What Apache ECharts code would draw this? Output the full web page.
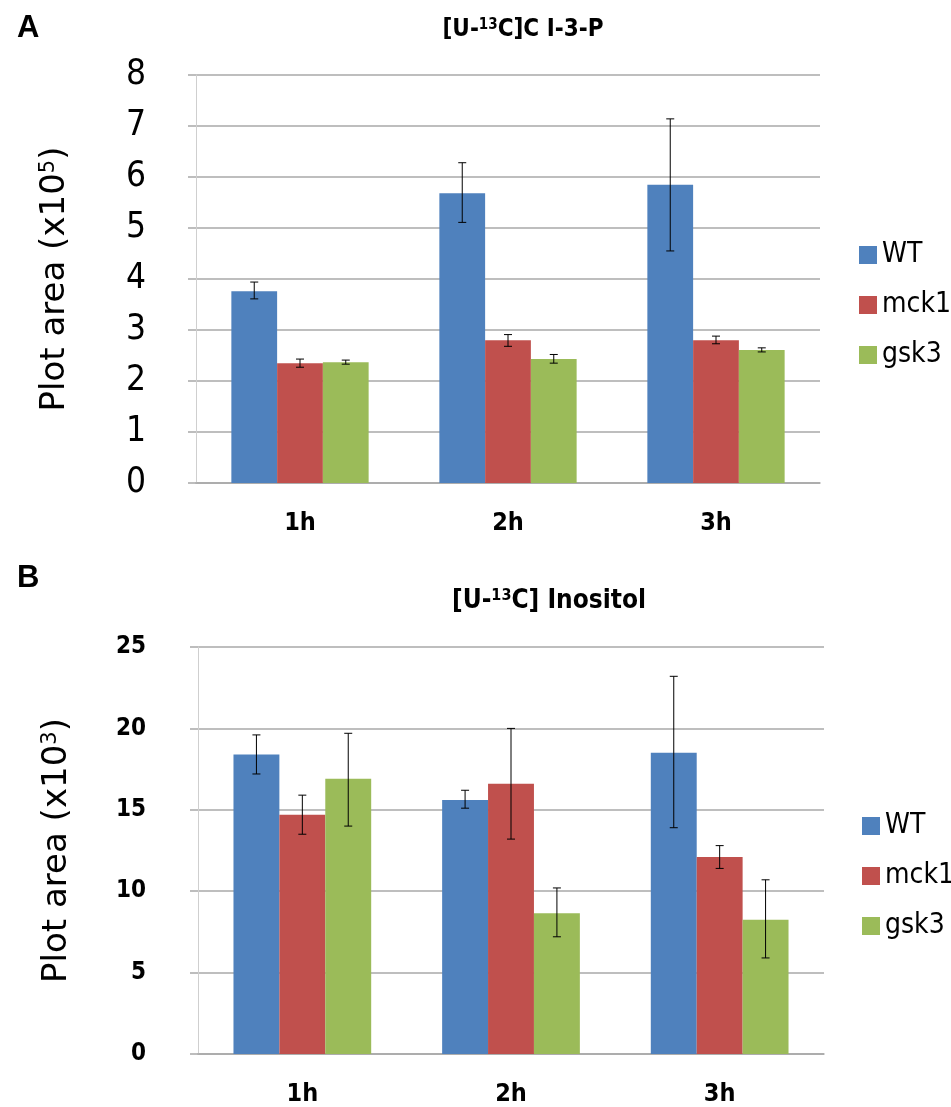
<!DOCTYPE html>
<html>
<head>
<meta charset="utf-8">
<script src="https://cdn.jsdelivr.net/npm/echarts@6/dist/echarts.min.js"></script>
<style>
  html, body { margin: 0; padding: 0; background: #fff; }
  #chart { width: 951px; height: 1107px; }
</style>
</head>
<body>
<div id="chart"></div>
<script>
// categories / series names
const hours = ['1h', '2h', '3h']
const names = ['WT', 'mck1', 'gsk3']
const colors = ['#4F81BD', '#C0504D', '#9BBB59']

// panel A: [U-13C]C I-3-P, x10^5
const aWT = [3.76, 5.68, 5.85]
const aWTLow = [3.61, 5.11, 4.55]
const aWTHigh = [3.94, 6.28, 7.14]
const aMck1 = [2.35, 2.80, 2.80]
const aMck1Low = [2.27, 2.68, 2.73]
const aMck1High = [2.43, 2.91, 2.88]
const aGsk3 = [2.37, 2.43, 2.61]
const aGsk3Low = [2.33, 2.35, 2.57]
const aGsk3High = [2.41, 2.52, 2.65]

// panel B: [U-13C] Inositol, x10^3
const bWT = [18.4, 15.6, 18.5]
const bWTLow = [17.2, 15.1, 13.9]
const bWTHigh = [19.6, 16.2, 23.2]
const bMck1 = [14.7, 16.6, 12.1]
const bMck1Low = [13.5, 13.2, 11.4]
const bMck1High = [15.9, 20.0, 12.8]
const bGsk3 = [16.9, 8.65, 8.25]
const bGsk3Low = [14.0, 7.2, 5.9]
const bGsk3High = [19.7, 10.2, 10.7]

const narrow = "'Liberation Sans Narrow', 'DejaVu Sans Condensed', sans-serif"
const gridGrey = '#a8a8a8'
const catGap = 0.34

const panels = [
  { means: [aWT, aMck1, aGsk3], lows: [aWTLow, aMck1Low, aGsk3Low], highs: [aWTHigh, aMck1High, aGsk3High] },
  { means: [bWT, bMck1, bGsk3], lows: [bWTLow, bMck1Low, bGsk3Low], highs: [bWTHigh, bMck1High, bGsk3High] }
]

// error bar drawn at the centre of bar number k
function errorBar (k) {
  return function (params, api) {
    const x = api.value(0)
    const lo = api.coord([x, api.value(1)])
    const hi = api.coord([x, api.value(2)])
    const band = api.size([1, 0])[0]
    const bw = band * (1 - catGap) / 3
    const cx = lo[0] + (k - 1) * bw
    const cap = 4
    const st = { stroke: '#000', lineWidth: 1 }
    return {
      type: 'group',
      children: [
        { type: 'line', shape: { x1: cx, y1: lo[1], x2: cx, y2: hi[1] }, style: st },
        { type: 'line', shape: { x1: cx - cap, y1: lo[1], x2: cx + cap, y2: lo[1] }, style: st },
        { type: 'line', shape: { x1: cx - cap, y1: hi[1], x2: cx + cap, y2: hi[1] }, style: st }
      ]
    }
  }
}

const series = []
panels.forEach((p, gi) => {
  names.forEach((n, k) => {
    series.push({
      name: n, type: 'bar', xAxisIndex: gi, yAxisIndex: gi,
      data: p.means[k], barGap: '0%', barCategoryGap: (catGap * 100) + '%',
      itemStyle: { color: colors[k] }, silent: true
    })
  })
  names.forEach((n, k) => {
    series.push({
      type: 'custom', xAxisIndex: gi, yAxisIndex: gi, silent: true, z: 5,
      renderItem: errorBar(k),
      data: hours.map((h, i) => [i, p.lows[k][i], p.highs[k][i]])
    })
  })
})

const xAxisBase = (gi) => ({
  type: 'category', gridIndex: gi, data: hours,
  axisLine: { lineStyle: { color: gridGrey, width: 1.5 } },
  axisTick: { length: 10, lineStyle: { color: gridGrey } },
  axisLabel: { fontFamily: narrow, fontWeight: 'bold', fontSize: 25, color: '#000', margin: 28 }
})

const yName = (exp) => ({
  name: '{a|Plot area (x10}{s|' + exp + '}{a|)}',
  nameLocation: 'middle', nameRotate: 90, nameGap: 124,
  nameTextStyle: {
    rich: {
      a: { fontFamily: 'DejaVu Sans', fontSize: 34, color: '#000' },
      s: { fontFamily: 'DejaVu Sans', fontSize: 21, color: '#000', verticalAlign: 'top' }
    }
  }
})

const legendBase = (left, top) => ({
  data: names, orient: 'vertical', left: left, top: top, itemWidth: 18, itemHeight: 18, itemGap: 22,
  icon: 'rect', selectedMode: false,
  textStyle: { fontFamily: narrow, fontSize: 28, color: '#000', padding: [0, 0, 0, 0] }
})

const option = {
  animation: false,
  title: [
    { text: 'A', left: 12, top: 8, textStyle: { fontFamily: 'Liberation Sans', fontWeight: 'bold', fontSize: 31, color: '#000' } },
    { text: 'B', left: 12, top: 558, textStyle: { fontFamily: 'Liberation Sans', fontWeight: 'bold', fontSize: 31, color: '#000' } },
    {
      text: '{b|[U-}{s|13}{b|C]C I-3-P}', left: 518, top: 13, textAlign: 'center',
      textStyle: { rich: {
        b: { fontFamily: narrow, fontWeight: 'bold', fontSize: 24, color: '#000' },
        s: { fontFamily: narrow, fontWeight: 'bold', fontSize: 15, color: '#000', verticalAlign: 'top' }
      } }
    },
    {
      text: '{b|[U-}{s|13}{b|C] Inositol}', left: 544, top: 583, textAlign: 'center',
      textStyle: { rich: {
        b: { fontFamily: narrow, fontWeight: 'bold', fontSize: 26, color: '#000' },
        s: { fontFamily: narrow, fontWeight: 'bold', fontSize: 16, color: '#000', verticalAlign: 'top' }
      } }
    }
  ],
  legend: [legendBase(854, 236), legendBase(857, 807)],
  grid: [
    { left: 196, right: 131, top: 75, height: 408 },
    { left: 198, right: 127, top: 647, height: 412 }
  ],
  xAxis: [xAxisBase(0), xAxisBase(1)],
  yAxis: [
    Object.assign({
      type: 'value', gridIndex: 0, min: 0, max: 8, interval: 1,
      axisLine: { show: true, lineStyle: { color: '#cfcfcf', width: 1 } },
      axisTick: { show: true, length: 8, lineStyle: { color: gridGrey, width: 1.5 } },
      splitLine: { lineStyle: { color: gridGrey, width: 1.5 } },
      axisLabel: { fontFamily: narrow, fontSize: 35, color: '#000', margin: 50 }
    }, yName(5)),
    Object.assign({
      type: 'value', gridIndex: 1, min: 0, max: 25, interval: 5,
      axisLine: { show: true, lineStyle: { color: '#cfcfcf', width: 1 } },
      axisTick: { show: true, length: 8, lineStyle: { color: gridGrey, width: 1.5 } },
      splitLine: { lineStyle: { color: gridGrey, width: 1.5 } },
      axisLabel: { fontFamily: narrow, fontWeight: 'bold', fontSize: 24, color: '#000', margin: 52 }
    }, yName(3))
  ],
  series: series
}

const chart = echarts.init(document.getElementById('chart'))
chart.setOption(option)
</script>
</body>
</html>
